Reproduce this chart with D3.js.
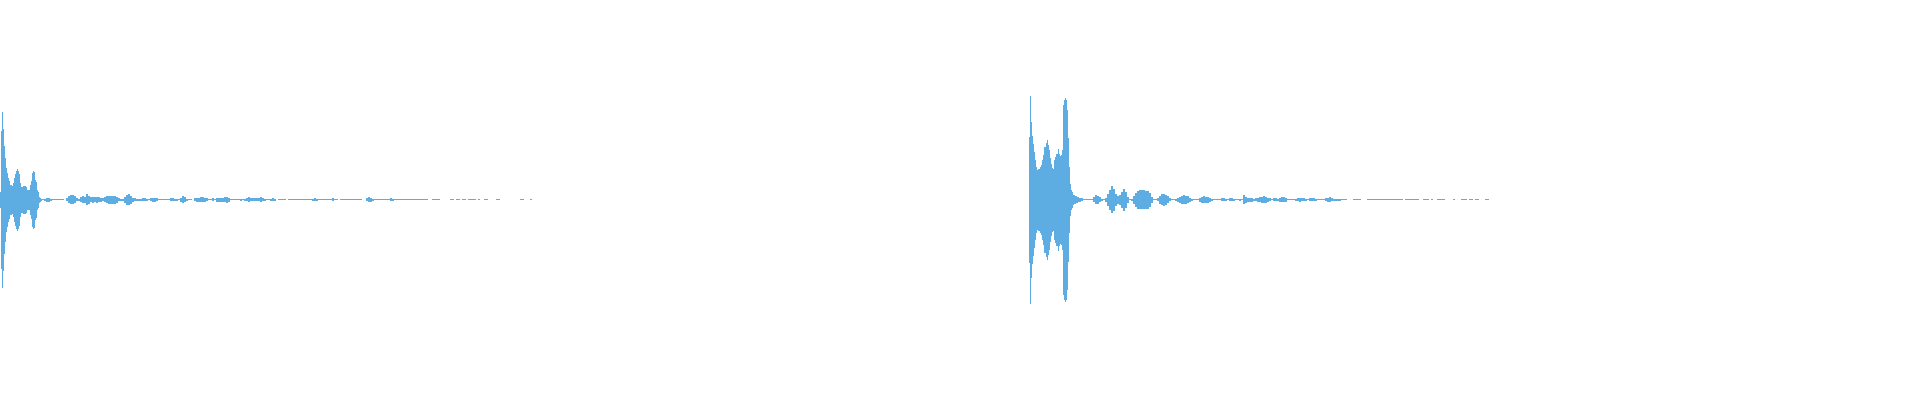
<!DOCTYPE html>
<html>
<head>
<meta charset="utf-8">
<script src="https://cdn.jsdelivr.net/npm/d3@7"></script>
<style>
  html, body { margin: 0; padding: 0; background: #ffffff; }
  svg { display: block; }
</style>
</head>
<body>
<div id="chart"></div>
<script>
// ---- data ----
// Peak amplitude of a symmetric waveform envelope.
// Attack parts use 10 ms bins, decay parts 20 ms bins.
const attackBin = 0.01;
const decayBin = 0.02;

// clip 1
const clip1AttackStart = 0;
const clip1Attack = [
  8, 69, 88, 71, 54, 42, 32, 27, 22, 19,
  15, 15, 14, 17, 22, 26, 29, 31, 29, 26,
  17, 13, 13, 14, 14, 14, 13, 10, 10, 10,
  15, 19, 27, 29, 28, 20, 18, 10, 8, 3,
  2, 1, 0.5, 0.5
];
const clip1DecayStart = 0.44;
const clip1Decay = [
  1, 2, 2, 1, 0.5, 0.5, 0.5, 0.5,
  0.5, 0.5, 0, 1.5, 3.5, 4.5, 4.5, 3.5, 1.5, 1,
  2.5, 3.5, 3, 5.5, 4, 2.5, 3, 2.5, 3, 2.5,
  2, 1.5, 2.5, 3.5, 4, 4, 4, 4, 3, 1.5,
  1, 1, 3, 5, 5.5, 4, 2, 1.5, 1, 1,
  1, 1.5, 1.5, 1, 0.5, 1.5, 2, 2, 1.5, 0.5,
  0.5, 0.5, 0.5, 0.5, 0.5, 1.5, 1.5, 1, 1, 0.5,
  2, 3.5, 2.5, 1, 0.5, 0.5, 0, 1.5, 2, 2,
  2.5, 2.5, 2, 1.5, 0.5, 0.5, 1.5, 0.5, 2, 2,
  2, 2, 2.5, 3, 2, 0.5, 0.5, 0.5, 0.5, 0.5,
  1, 0.5, 1, 1.5, 2.5, 1.5, 1.5, 1.5, 1.5, 1.5,
  2.5, 1.5, 1, 0.5, 0.5, 1, 1.5, 1, 0, 0.5,
  0.5, 0.5, 0.5, 0, 0.5, 0.5, 0.5, 0.5, 0.5, 0.5,
  0.5, 0.5, 0.5, 0.5, 0.5, 0.5, 1, 1.5, 1, 0.5,
  0.5, 0.5, 0.5, 0.5, 0.5, 0.5, 1.5, 0.5, 0.5, 0,
  0.5, 0.5, 0.5, 0.5, 0.5, 0.5, 0.5, 0.5, 0.5, 0.5,
  0.5, 0, 0, 1.5, 2.5, 2, 1, 0.5, 0.5, 0.5,
  0.5, 0.5, 0.5, 0.5, 0.5, 1.5, 1, 0.5, 0.5, 0.5,
  0.5, 0.5, 0.5, 0.5, 0.5, 0.5, 0.5, 0.5, 0.5, 0.5,
  0.5, 0.5, 0.5, 0.5, 0, 0, 0.5, 0.5, 0.5, 0.5,
  0, 0, 0, 0, 0, 0.5, 0.5, 0, 0.5, 0.5,
  0, 0.5, 0.5, 0, 0.5, 0.5, 0.5, 0.5, 0, 0.5,
  0, 0, 0.5, 0.5, 0, 0, 0, 0, 0.5, 0.5,
  0, 0, 0, 0, 0, 0, 0, 0, 0, 0,
  0.5, 0.5, 0, 0, 0, 0.5
];

// clip 2
const clip2AttackStart = 10.29;
const clip2Attack = [
  63, 104, 78, 64, 56, 48, 40, 33, 30, 31,
  31, 33, 35, 40, 45, 53, 53, 57, 60, 55,
  50, 42, 36, 32, 31, 40, 43, 46, 46, 51,
  46, 44, 45, 50, 95, 100, 102, 100, 90, 62,
  33, 16, 10, 8, 5, 4.5, 4, 3.5, 3, 2.5,
  2, 2, 1.5, 1.5
];
const clip2DecayStart = 10.83;
const clip2Decay = [
  0.5, 0.5, 0.5,
  0.5, 0.5, 2.5, 4.5, 4, 2.5, 1, 0.5, 2, 6,
  10, 13.5, 11, 6, 4, 5, 8, 11, 8, 3,
  0.5, 1, 4, 7, 9, 9.5, 9.5, 9.5, 9, 9,
  7, 3, 0.5, 0.5, 1.5, 4, 5.5, 6, 5, 3.5,
  1.5, 0.5, 0.5, 1, 2, 3, 4, 4.5, 4, 3.5,
  2, 1, 0.5, 0.5, 0.5, 2, 3, 3.5, 3, 3,
  2, 1, 0.5, 0.5, 0.5, 0.5, 1.5, 1.5, 1, 0.5,
  1.5, 1.5, 1, 0.5, 0.5, 1, 0.5, 4.5, 3, 2,
  2, 2, 1, 1.5, 2, 2.5, 3, 3.5, 3, 2,
  1.5, 0.5, 1.5, 1.5, 1, 2, 2.5, 2.5, 2, 0.5,
  0.5, 0.5, 0.5, 1, 1.5, 2, 1.5, 1.5, 1, 0.5,
  1.5, 1.5, 1.5, 1, 0.5, 0.5, 0.5, 0.5, 1.5, 2,
  2.5, 1.5, 1, 1, 1, 1, 0.5, 0.5, 0.5, 0,
  0, 0, 0.5, 0.5, 0.5, 0.5, 0, 0, 0, 0.5,
  0.5, 0.5, 0.5, 0.5, 0.5, 0.5, 0.5, 0.5, 0.5, 0.5,
  0.5, 0.5, 0.5, 0.5, 0.5, 0.5, 0.5, 0, 0.5, 0.5,
  0.5, 0.5, 0.5, 0.5, 0.5, 0, 0, 0.5, 0.5, 0.5,
  0, 0.5, 0, 0, 0.5, 0.5, 0.5, 0.5, 0, 0,
  0, 0, 0.5, 0, 0, 0, 0.5, 0.5, 0.5, 0,
  0.5, 0.5, 0, 0.5, 0.5, 0, 0, 0, 0.5, 0.5
];

const totalSeconds = 19.2;
const ampMax = 110;

const segments = [
  { start: clip1AttackStart, step: attackBin, values: clip1Attack },
  { start: clip1DecayStart,  step: decayBin,  values: clip1Decay },
  { start: clip2AttackStart, step: attackBin, values: clip2Attack },
  { start: clip2DecayStart,  step: decayBin,  values: clip2Decay }
];

// ---- chart ----
const W = 1920, H = 400;
const svg = d3.select("#chart").append("svg")
  .attr("width", W).attr("height", H);

const x = d3.scaleLinear().domain([0, totalSeconds]).range([0, W]);
const y = d3.scaleLinear().domain([-ampMax, ampMax]).range([309.5, 89.5]);

const bins = [];
segments.forEach(seg => {
  seg.values.forEach((a, i) => {
    if (a > 0) bins.push({ t: seg.start + i * seg.step, w: seg.step, a });
  });
});

svg.append("g")
  .attr("fill", "#5dade2")
  .attr("shape-rendering", "crispEdges")
  .selectAll("rect")
  .data(bins)
  .join("rect")
  .attr("x", d => Math.round(x(d.t)))
  .attr("width", d => Math.round(x(d.w) - x(0)))
  .attr("y", d => y(d.a))
  .attr("height", d => Math.max(1, y(-d.a) - y(d.a)));
</script>
</body>
</html>
